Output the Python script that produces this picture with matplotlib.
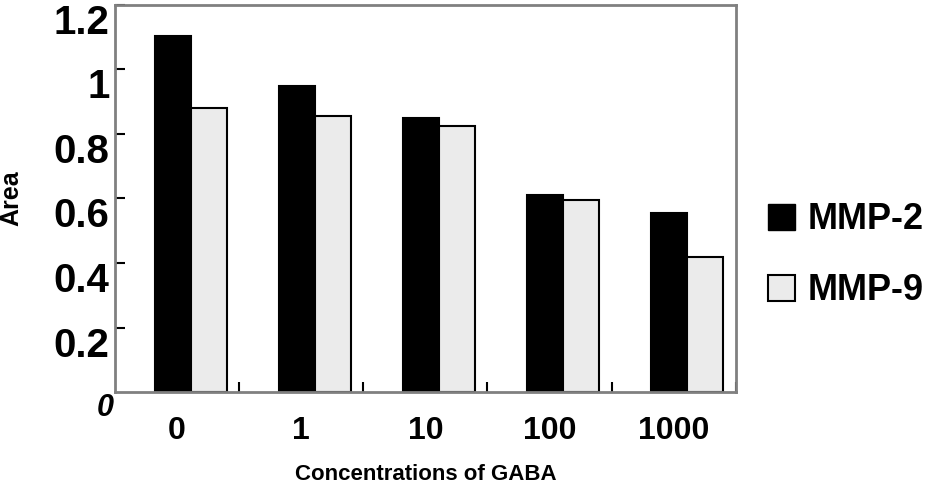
import numpy as np
import matplotlib
matplotlib.use("Agg")
import matplotlib.pyplot as plt
import matplotlib.transforms as mtransforms
from matplotlib.patches import Patch

plt.rcParams['font.family'] = ['Liberation Sans', 'DejaVu Sans']
plt.rcParams['font.weight'] = 'bold'

concentrations = ["0", "1", "10", "100", "1000"]
mmp2 = [1.105, 0.948, 0.85, 0.612, 0.554]
mmp9 = [0.88, 0.855, 0.825, 0.594, 0.42]
yticks = [0.2, 0.4, 0.6, 0.8, 1.0, 1.2]
ylabels = ["0.2", "0.4", "0.6", "0.8", "1", "1.2"]

fig = plt.figure(figsize=(9.47, 4.95), dpi=100)
ax = fig.add_axes([0.1214, 0.208, 0.6556, 0.782])

x = np.arange(len(concentrations))
w = 0.29
ax.bar(x - 0.18, mmp2, width=w, align='edge', color='black', edgecolor='black', linewidth=1.5, label='MMP-2')
ax.bar(x + 0.11, mmp9, width=w, align='edge', color='#ebebeb', edgecolor='black', linewidth=1.5, label='MMP-9')

ax.set_xlim(-0.5, 4.5)
ax.set_ylim(0, 1.2)

for s in ax.spines.values():
    s.set_color('#808080')
    s.set_linewidth(2)

# y ticks
ax.set_yticks(yticks)
ax.set_yticklabels(ylabels, fontsize=29, fontweight='bold')
ax.tick_params(axis='y', direction='in', length=7, width=1.5, color='black', pad=4)
offset = mtransforms.ScaledTranslation(0, -0.14, fig.dpi_scale_trans)
for lab in ax.get_yticklabels():
    lab.set_transform(lab.get_transform() + offset)

# x: labels at group centers, small inward ticks at group boundaries
ax.set_xticks(x)
ax.set_xticklabels(concentrations, fontsize=23, fontweight='bold')
ax.tick_params(axis='x', which='major', length=0, pad=17)
ax.set_xticks(np.arange(0.5, 4.6, 1.0), minor=True)
ax.tick_params(axis='x', which='minor', direction='in', length=7, width=1.5, color='black')

ax.text(-0.016, -0.04, "0", transform=ax.transAxes, fontsize=22, fontstyle='italic',
        fontweight='bold', ha='center', va='center')

ax.set_ylabel("Area", fontsize=18, fontweight='bold')
ax.yaxis.set_label_coords(-0.147, 0.5)
ax.set_xlabel("Concentrations of GABA", fontsize=16, fontweight='bold')
ax.xaxis.set_label_coords(0.5, -0.185)

handles = [Patch(facecolor='black', edgecolor='black'),
           Patch(facecolor='#ebebeb', edgecolor='black', linewidth=1.5)]
fig.legend(handles, ["MMP-2", "MMP-9"], loc='center left', bbox_to_anchor=(0.777, 0.484),
           frameon=False, prop={'size': 26, 'weight': 'bold'}, handlelength=0.75,
           handleheight=0.75, handletextpad=0.35, labelspacing=1.0)

fig.savefig("out.png", dpi=100)
